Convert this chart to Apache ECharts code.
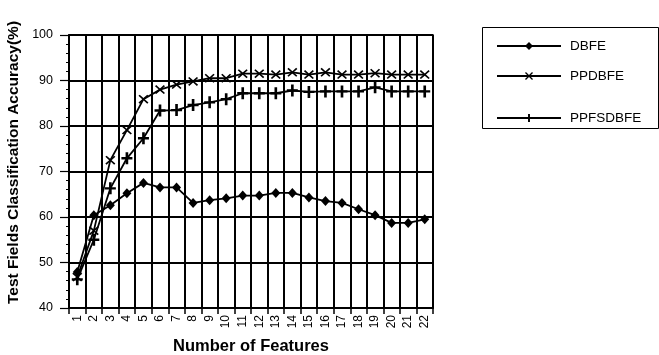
<!DOCTYPE html>
<html><head><meta charset="utf-8">
<script src="https://cdn.jsdelivr.net/npm/echarts@6/dist/echarts.min.js"></script>
<style>html,body{margin:0;padding:0;background:#fff}#c{width:659px;height:355px}</style>
</head><body><div id="c"></div>
<script>
var categories = ['1','2','3','4','5','6','7','8','9','10','11','12','13','14','15','16','17','18','19','20','21','22'];
var dbfe = [47.9,60.4,62.6,65.2,67.5,66.5,66.5,63.1,63.7,64.1,64.7,64.7,65.3,65.3,64.3,63.5,63.1,61.7,60.4,58.7,58.7,59.5];
var ppdbfe = [46.8,57,72.5,79.1,85.9,88.0,89.1,89.8,90.5,90.5,91.5,91.5,91.3,91.8,91.3,91.8,91.3,91.3,91.6,91.3,91.3,91.3];
var ppfsdbfe = [46.3,55,66.3,72.9,77.3,83.4,83.5,84.6,85.2,85.9,87.2,87.2,87.2,87.8,87.5,87.6,87.6,87.6,88.5,87.6,87.6,87.6];
var seriesNames = ['DBFE','PPDBFE','PPFSDBFE'];
var yTicks = {min:40, max:100, step:10};

var FONT = 'Liberation Sans, Arial, sans-serif';
var crossSym = 'path://M0,1.2 L1.2,0 L5,3.8 L8.8,0 L10,1.2 L6.2,5 L10,8.8 L8.8,10 L5,6.2 L1.2,10 L0,8.8 L3.8,5 Z';
var plusSym = 'path://M3.8,0 H6.2 V4 H10 V6 H6.2 V10 H3.8 V6 H0 V4 H3.8 Z';

var chart = echarts.init(document.getElementById('c'));
function legendCfg(name, top){
  return {data:[name], left:491, top:top, itemWidth:64, itemHeight:10, itemGap:0,
    textStyle:{fontFamily:FONT, fontSize:13.5, color:'#000', padding:[0,0,0,4]}, selectedMode:false};
}
chart.setOption({
  animation:false,
  backgroundColor:'#fff',
  grid:{left:69, right:226, top:35, bottom:47, show:true, borderColor:'#000', borderWidth:1.5,
    containLabel:false, outerBoundsMode:'none'},
  legend:[legendCfg('DBFE',34), legendCfg('PPDBFE',64), legendCfg('PPFSDBFE',106)],
  graphic:[{type:'rect', left:480, top:25, shape:{width:176, height:101}, style:{fill:'none', stroke:'#000', lineWidth:1}}],
  xAxis:{type:'category', data:categories, boundaryGap:true,
    name:'Number of Features', nameLocation:'middle', nameGap:30,
    nameTextStyle:{fontFamily:FONT, fontSize:16.5, fontWeight:'bold', color:'#000'},
    axisLine:{lineStyle:{color:'#000', width:2}},
    axisTick:{show:true, length:6, interval:0, lineStyle:{color:'#000', width:1.5}},
    axisLabel:{rotate:90, interval:0, margin:7, fontFamily:FONT, fontSize:12, color:'#000'},
    splitLine:{show:true, interval:0, lineStyle:{color:'#000', width:2}}
  },
  yAxis:{type:'value', min:yTicks.min, max:yTicks.max, interval:yTicks.step,
    name:'Test Fields Classification Accuracy(%)', nameLocation:'middle', nameGap:46,
    nameTextStyle:{fontFamily:FONT, fontSize:15.5, fontWeight:'bold', color:'#000', padding:[0,0,0,18]},
    axisLine:{show:true, lineStyle:{color:'#000', width:2}},
    axisTick:{show:true, length:9, lineStyle:{color:'#000', width:1.2}},
    minorTick:{show:true, splitNumber:5, length:3, lineStyle:{color:'#000', width:1}},
    axisLabel:{margin:16, fontFamily:FONT, fontSize:12.5, color:'#000'},
    splitLine:{show:true, lineStyle:{color:'#000', width:2}}
  },
  series:[
    {name:seriesNames[0], type:'line', data:dbfe, symbol:'diamond', symbolSize:[9,10],
      lineStyle:{color:'#000', width:1.8}, itemStyle:{color:'#000'}},
    {name:seriesNames[1], type:'line', data:ppdbfe, symbol:crossSym, symbolSize:[10,9],
      lineStyle:{color:'#000', width:1.8}, itemStyle:{color:'#000'}},
    {name:seriesNames[2], type:'line', data:ppfsdbfe, symbol:plusSym, symbolSize:[11,12],
      lineStyle:{color:'#000', width:1.8}, itemStyle:{color:'#000'}}
  ]
});
</script></body></html>
